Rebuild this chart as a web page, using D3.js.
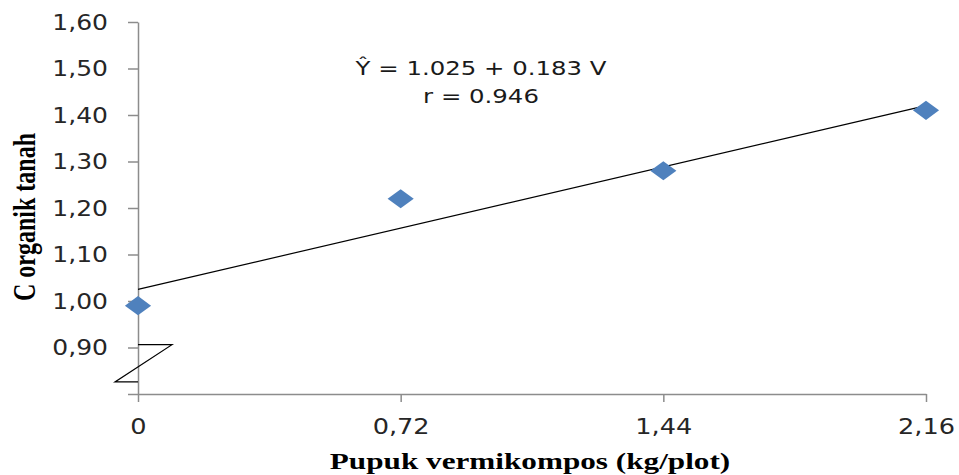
<!DOCTYPE html>
<html>
<head>
<meta charset="utf-8">
<script src="https://cdn.jsdelivr.net/npm/d3@7"></script>
<style>
    body { margin: 0; background: #fff; }
    .axis path, .axis line { stroke: #8c8c8c; stroke-width: 1.5; }
    .axis text { font-family: "DejaVu Sans", Verdana, sans-serif; fill: #262626; }
    .title { font-family: "Liberation Serif", "Times New Roman", serif; font-weight: bold; fill: #000; }
    .eq { font-family: "DejaVu Sans", Verdana, sans-serif; font-size: 20px; fill: #1a1a1a; }
</style>
</head>
<body>
<div id="container"></div>
<script>
const WIDTH = 959;
const HEIGHT = 475;
const STRETCH = 1.22;

// data
var DOSE = [0, 0.72, 1.44, 2.16];
var C_ORGANIK = [0.99, 1.22, 1.28, 1.41];
var X_TICKS = [0, 0.72, 1.44, 2.16];
var X_TICK_LABELS = ["0", "0,72", "1,44", "2,16"];
var Y_TICKS = [0.8, 0.9, 1.0, 1.1, 1.2, 1.3, 1.4, 1.5, 1.6];
var Y_TICK_LABELS = ["", "0,90", "1,00", "1,10", "1,20", "1,30", "1,40", "1,50", "1,60"];
var TREND_X = [0, 2.16];
var TREND_Y = [1.025, 1.42];
var BREAK_Y = [0.906, 0.826];
var EQUATION = ["\u0176 = 1.025 + 0.183 V", "r = 0.946"];

var XScale = d3.scaleLinear().domain([0, 2.16]).range([138, 926]);
var YScale = d3.scaleLinear().domain([0.8, 1.6]).range([394, 22]);

var translate = function (x, y) {
    return "translate(" + x + "," + y + ")";
};

var svg = d3.select("#container").append("svg")
    .attr("width", WIDTH)
    .attr("height", HEIGHT);

svg.append("rect").attr("width", WIDTH).attr("height", HEIGHT).attr("fill", "#fff");

// y axis
var yAxis = d3.axisLeft(YScale)
    .tickValues(Y_TICKS)
    .tickSize(10)
    .tickSizeOuter(0)
    .tickFormat(function (d, i) { return Y_TICK_LABELS[i]; });

var gy = svg.append("g")
    .classed("axis", true)
    .attr("transform", translate(XScale(0), 0))
    .call(yAxis);
gy.selectAll("text")
    .attr("x", 0)
    .attr("dy", "0.36em")
    .attr("text-anchor", "end")
    .attr("transform", "translate(-30,0) scale(" + STRETCH + ",1)")
    .style("font-size", "20.5px");

// x axis
var xAxis = d3.axisBottom(XScale)
    .tickValues(X_TICKS)
    .tickSize(8)
    .tickSizeOuter(0)
    .tickFormat(function (d, i) { return X_TICK_LABELS[i]; });

var gx = svg.append("g")
    .classed("axis", true)
    .attr("transform", translate(0, YScale(0.8)))
    .call(xAxis);
gx.selectAll("text")
    .attr("y", 0)
    .attr("dy", 0)
    .attr("text-anchor", "middle")
    .attr("transform", "translate(0,40) scale(" + STRETCH + ",1)")
    .style("font-size", "21px");

// axis break mark
var x0 = XScale(0);
svg.append("path")
    .attr("d", "M" + x0 + "," + YScale(BREAK_Y[0]) +
        "H" + (x0 + 34) +
        "L" + (x0 - 23) + "," + YScale(BREAK_Y[1]) +
        "H" + x0)
    .attr("fill", "none")
    .attr("stroke", "#000")
    .attr("stroke-width", 1.2);

// trend line
var line = d3.line()
    .x(function (d) { return XScale(d[0]); })
    .y(function (d) { return YScale(d[1]); });

svg.append("path")
    .datum(d3.zip(TREND_X, TREND_Y))
    .attr("d", line)
    .attr("fill", "none")
    .attr("stroke", "#000")
    .attr("stroke-width", 1.2);

// diamonds
var diamond = d3.symbol().type(d3.symbolSquare).size(182);
svg.append("g").selectAll("path")
    .data(d3.zip(DOSE, C_ORGANIK))
    .enter().append("path")
    .attr("d", diamond)
    .attr("fill", "#4f81bd")
    .attr("transform", function (d) {
        return translate(XScale(d[0]), YScale(d[1])) + " scale(1.37,1) rotate(45)";
    });

// equation
svg.append("g").selectAll("text")
    .data(EQUATION)
    .enter().append("text")
    .classed("eq", true)
    .attr("text-anchor", "middle")
    .attr("transform", function (d, i) {
        return translate(481, 75 + i * 28) + " scale(" + STRETCH + ",1)";
    })
    .text(function (d) { return d; });

// axis titles
svg.append("text")
    .classed("title", true)
    .attr("text-anchor", "middle")
    .style("font-size", "24px")
    .attr("transform", translate(530, 469) + " scale(1.3,1)")
    .text("Pupuk vermikompos (kg/plot)");

svg.append("text")
    .classed("title", true)
    .attr("text-anchor", "middle")
    .style("font-size", "24px")
    .attr("transform", translate(35, 217) + " scale(1.3,1) rotate(-90)")
    .text("C organik tanah");
</script>
</body>
</html>
